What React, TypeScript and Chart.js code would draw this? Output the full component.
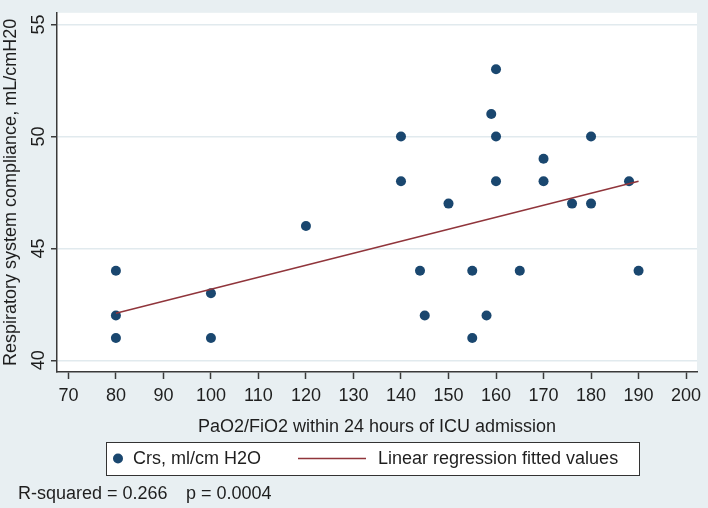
import React, { useEffect, useRef } from "react";
import { Chart, registerables } from "chart.js";

Chart.register(...registerables);

// ---- data ----
const crsX = [80, 80, 80, 100, 100, 120, 140, 140, 144, 145, 150, 155, 155, 158, 159, 160, 160, 160, 165, 170, 170, 176, 180, 180, 188, 190];
const crsY = [44, 42, 41, 43, 41, 46, 50, 48, 44, 42, 47, 44, 41, 42, 51, 53, 50, 48, 44, 49, 48, 47, 50, 47, 48, 44];
const fitX = [80, 190];
const fitY = [42.1, 48.0];
const xTicks = [70, 80, 90, 100, 110, 120, 130, 140, 150, 160, 170, 180, 190, 200];
const yTicks = [40, 45, 50, 55];
const seriesLabels = ["Crs, ml/cm H2O", "Linear regression fitted values"];
const xTitle = "PaO2/FiO2 within 24 hours of ICU admission";
const yTitle = "Respiratory system compliance, mL/cmH20";
const noteR2 = "R-squared = 0.266";
const noteP = "p = 0.0004";

const FONT = "'Liberation Sans', Arial, sans-serif";
const TEXT = "#1e1e1e";
const BG = "#e8eff2";
const DOT = "#1a476f";
const FIT = "#90353b";

const bgPlugin = {
  id: "bgPlugin",
  beforeDraw(chart: any) {
    const { ctx, chartArea: a, width, height } = chart;
    ctx.save();
    ctx.fillStyle = BG;
    ctx.fillRect(0, 0, width, height);
    ctx.fillStyle = "#ffffff";
    ctx.fillRect(a.left, a.top, a.right - a.left, a.bottom - a.top);
    ctx.restore();
  },
  afterDraw(chart: any) {
    const { ctx } = chart;
    ctx.save();
    // legend box
    const bx = 106, by = 442, bw = 533, bh = 33;
    const cy = by + bh / 2;
    ctx.fillStyle = "#ffffff";
    ctx.fillRect(bx, by, bw, bh);
    ctx.strokeStyle = "#333333";
    ctx.lineWidth = 1;
    ctx.strokeRect(bx + 0.5, by + 0.5, bw, bh);
    ctx.fillStyle = DOT;
    ctx.beginPath();
    ctx.arc(118, cy, 5, 0, Math.PI * 2);
    ctx.fill();
    ctx.font = `18px ${FONT}`;
    ctx.fillStyle = TEXT;
    ctx.textBaseline = "middle";
    ctx.textAlign = "left";
    ctx.fillText(seriesLabels[0], 133, cy + 1);
    ctx.strokeStyle = FIT;
    ctx.lineWidth = 1.5;
    ctx.beginPath();
    ctx.moveTo(298, cy);
    ctx.lineTo(366, cy);
    ctx.stroke();
    ctx.fillText(seriesLabels[1], 378, cy + 1);
    // note
    ctx.fillText(noteR2, 18, 494);
    ctx.fillText(noteP, 186, 494);
    ctx.restore();
  },
};

export default function App() {
  const ref = useRef<HTMLCanvasElement>(null);
  useEffect(() => {
    if (!ref.current) return;
    const chart = new Chart(ref.current, {
      type: "scatter",
      data: {
        datasets: [
          {
            label: seriesLabels[0],
            data: crsX.map((x, i) => ({ x, y: crsY[i] })),
            backgroundColor: DOT,
            borderColor: DOT,
            pointRadius: 5,
            pointBorderWidth: 0,
            order: 2,
          },
          {
            type: "line",
            label: seriesLabels[1],
            data: fitX.map((x, i) => ({ x, y: fitY[i] })),
            borderColor: FIT,
            borderWidth: 1.5,
            pointRadius: 0,
            fill: false,
            order: 1,
          } as any,
        ],
      },
      options: {
        animation: false,
        responsive: false,
        devicePixelRatio: 1,
        layout: { padding: { left: 0, top: 3, right: 11, bottom: 66 } },
        plugins: { legend: { display: false }, tooltip: { enabled: false } },
        scales: {
          x: {
            type: "linear",
            min: 67.6,
            max: 202.3,
            afterBuildTicks: (s: any) => {
              s.ticks = xTicks.map((v) => ({ value: v }));
            },
            afterFit: (s: any) => {
              s.height = 70;
            },
            border: { display: true, color: "#3a3a3a", width: 1.5 },
            grid: { drawOnChartArea: false, drawTicks: true, tickLength: 7, tickColor: "#3a3a3a", tickWidth: 1.5 },
            ticks: { font: { family: FONT, size: 18 }, color: TEXT, padding: 6, maxRotation: 0, autoSkip: false },
            title: { display: true, text: xTitle, font: { family: FONT, size: 18 }, color: TEXT, padding: { top: 0, bottom: 4 } },
          },
          y: {
            type: "linear",
            min: 39.48,
            max: 55.52,
            afterBuildTicks: (s: any) => {
              s.ticks = yTicks.map((v) => ({ value: v }));
            },
            afterFit: (s: any) => {
              s.width = 57;
            },
            border: { display: true, color: "#3a3a3a", width: 1.5 },
            grid: { drawOnChartArea: true, color: "#e1eaee", lineWidth: 1.5, drawTicks: true, tickLength: 6, tickColor: "#3a3a3a", tickWidth: 1.5 },
            ticks: { font: { family: FONT, size: 18 }, color: TEXT, padding: 2, minRotation: 90, maxRotation: 90, crossAlign: "center" },
            title: { display: true, text: yTitle, font: { family: FONT, size: 18 }, color: TEXT, padding: { top: 0, bottom: 0 } },
          },
        },
      } as any,
      plugins: [bgPlugin],
    });
    return () => chart.destroy();
  }, []);
  return (
    <div style={{ position: "fixed", left: 0, top: 0, width: 708, height: 508 }}>
      <canvas ref={ref} width={708} height={508} style={{ width: 708, height: 508, display: "block" }} />
    </div>
  );
}
